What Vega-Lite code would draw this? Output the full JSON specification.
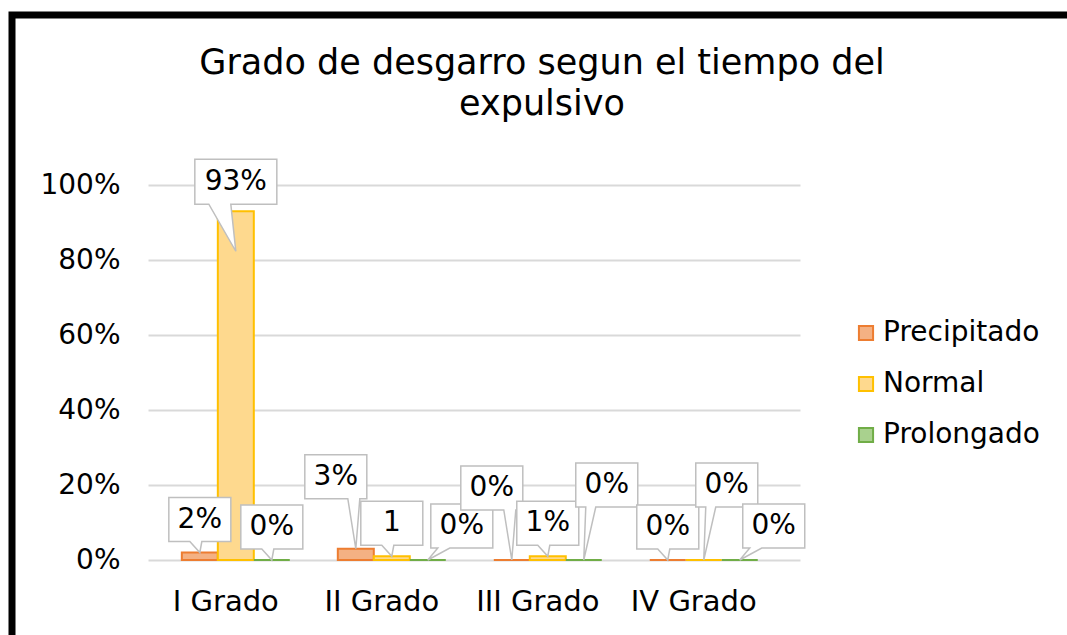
{
  "$schema": "https://vega.github.io/schema/vega-lite/v6.json",
  "autosize": {"type": "none"},
  "width": 1060,
  "height": 625,
  "padding": {"left": 12, "top": 15, "right": -5, "bottom": -5},
  "background": "white",
  "config": {"view": {"stroke": "#000000", "strokeWidth": 7, "fill": "white"}},
  "title": {
    "text": ["Grado de desgarro segun el tiempo del", "expulsivo"],
    "font": "DejaVu Sans",
    "fontSize": 35,
    "fontWeight": "normal",
    "color": "#000000",
    "lineHeight": 41,
    "anchor": "middle",
    "frame": "group",
    "offset": -107
  },
  "data": {
    "values": [
      {"grado": "I Grado", "serie": "Precipitado", "valor": 0.02, "etiqueta": "2%"},
      {"grado": "I Grado", "serie": "Normal", "valor": 0.93, "etiqueta": "93%"},
      {"grado": "I Grado", "serie": "Prolongado", "valor": 0.0, "etiqueta": "0%"},
      {"grado": "II Grado", "serie": "Precipitado", "valor": 0.03, "etiqueta": "3%"},
      {"grado": "II Grado", "serie": "Normal", "valor": 0.01, "etiqueta": "1"},
      {"grado": "II Grado", "serie": "Prolongado", "valor": 0.0, "etiqueta": "0%"},
      {"grado": "III Grado", "serie": "Precipitado", "valor": 0.0, "etiqueta": "0%"},
      {"grado": "III Grado", "serie": "Normal", "valor": 0.01, "etiqueta": "1%"},
      {"grado": "III Grado", "serie": "Prolongado", "valor": 0.0, "etiqueta": "0%"},
      {"grado": "IV Grado", "serie": "Precipitado", "valor": 0.0, "etiqueta": "0%"},
      {"grado": "IV Grado", "serie": "Normal", "valor": 0.0, "etiqueta": "0%"},
      {"grado": "IV Grado", "serie": "Prolongado", "valor": 0.0, "etiqueta": "0%"}
    ]
  },
  "encoding": {
    "x": {
      "field": "grado",
      "type": "nominal",
      "sort": ["I Grado", "II Grado", "III Grado", "IV Grado"],
      "scale": {"range": [136, 788], "paddingInner": 0, "paddingOuter": 0.09, "align": 0.35},
      "axis": {
        "title": null,
        "orient": "bottom",
        "offset": -80,
        "labelAngle": 0,
        "domain": false,
        "ticks": false,
        "tickSize": 0,
        "grid": false,
        "labelFont": "DejaVu Sans",
        "labelFontSize": 29,
        "labelColor": "#000000",
        "labelPadding": 27,
        "labelOffset": -10
      }
    },
    "xOffset": {
      "field": "serie",
      "sort": ["Precipitado", "Normal", "Prolongado"],
      "scale": {"paddingInner": 0, "paddingOuter": 0.667}
    },
    "y": {
      "field": "valor",
      "type": "quantitative",
      "scale": {"domain": [0, 1], "range": [545, 170]},
      "axis": {
        "title": null,
        "orient": "left",
        "offset": -136,
        "values": [0, 0.2, 0.4, 0.6, 0.8, 1],
        "format": ".0%",
        "domain": false,
        "ticks": false,
        "tickSize": 0,
        "labelFont": "DejaVu Sans",
        "labelFontSize": 28,
        "labelColor": "#000000",
        "labelPadding": 28,
        "gridColor": "#D9D9D9",
        "gridWidth": 2
      }
    }
  },
  "layer": [
    {
      "mark": {"type": "bar", "strokeWidth": 2},
      "encoding": {
        "fill": {
          "field": "serie",
          "type": "nominal",
          "sort": ["Precipitado", "Normal", "Prolongado"],
          "scale": {"domain": ["Precipitado", "Normal", "Prolongado"], "range": ["#F4B183", "#FED98E", "#A9D18E"]},
          "legend": {
            "title": null,
            "orient": "none",
            "legendX": 840,
            "legendY": 304,
            "symbolType": "square",
            "symbolSize": 200,
            "symbolStrokeWidth": 2,
            "labelFont": "DejaVu Sans",
            "labelFontSize": 28,
            "labelColor": "#000000",
            "labelOffset": 3,
            "rowPadding": 23
          }
        },
        "stroke": {
          "field": "serie",
          "type": "nominal",
          "sort": ["Precipitado", "Normal", "Prolongado"],
          "scale": {"domain": ["Precipitado", "Normal", "Prolongado"], "range": ["#ED7D31", "#FFC000", "#70AD47"]},
          "legend": {
            "title": null,
            "orient": "none",
            "legendX": 840,
            "legendY": 304,
            "symbolType": "square",
            "symbolSize": 200,
            "symbolStrokeWidth": 2,
            "labelFont": "DejaVu Sans",
            "labelFontSize": 28,
            "labelColor": "#000000",
            "labelOffset": 3,
            "rowPadding": 23
          }
        }
      }
    },
    {
      "mark": {"type": "point", "filled": true, "fill": "white", "stroke": "#BFBFBF", "strokeWidth": 1.5, "opacity": 1, "fillOpacity": 1, "strokeOpacity": 1, "size": 4},
      "encoding": {
        "shape": {
          "condition": [
            {"test": "datum.valor > 0.5", "value": "M-41,-52H41V-7H-5L0,40L-27,-7H-41Z"},
            {"test": "datum.serie == 'Precipitado' && (datum.grado == 'II Grado' || datum.grado == 'III Grado')", "value": "M-51,-94H11V-50H4L0,0L-8,-50H-51Z"},
            {"test": "(datum.serie == 'Prolongado' && datum.grado == 'III Grado') || (datum.serie == 'Normal' && datum.grado == 'IV Grado')", "value": "M-8,-97H54V-53H12L0,0L2,-53H-8Z"},
            {"test": "datum.serie == 'Prolongado' && (datum.grado == 'II Grado' || datum.grado == 'IV Grado')", "value": "M3,-56H65V-12H22L0,0L10,-12H3Z"}
          ],
          "value": "M-31,-55H31V-11H2L0,0L-10,-11H-31Z"
        }
      }
    },
    {
      "mark": {
        "type": "text",
        "font": "DejaVu Sans",
        "fontSize": 28,
        "color": "#000000",
        "baseline": "middle",
        "align": "center",
        "dx": {"expr": "datum.valor > 0.5 ? 0 : (datum.serie == 'Precipitado' && (datum.grado == 'II Grado' || datum.grado == 'III Grado')) ? -20 : ((datum.serie == 'Prolongado' && datum.grado == 'III Grado') || (datum.serie == 'Normal' && datum.grado == 'IV Grado')) ? 23 : (datum.serie == 'Prolongado' && (datum.grado == 'II Grado' || datum.grado == 'IV Grado')) ? 34 : 0"},
        "dy": {"expr": "datum.valor > 0.5 ? -29 : (datum.serie == 'Precipitado' && (datum.grado == 'II Grado' || datum.grado == 'III Grado')) ? -72 : ((datum.serie == 'Prolongado' && datum.grado == 'III Grado') || (datum.serie == 'Normal' && datum.grado == 'IV Grado')) ? -75 : (datum.serie == 'Prolongado' && (datum.grado == 'II Grado' || datum.grado == 'IV Grado')) ? -34 : -33"}
      },
      "encoding": {
        "text": {"field": "etiqueta"}
      }
    }
  ]
}
